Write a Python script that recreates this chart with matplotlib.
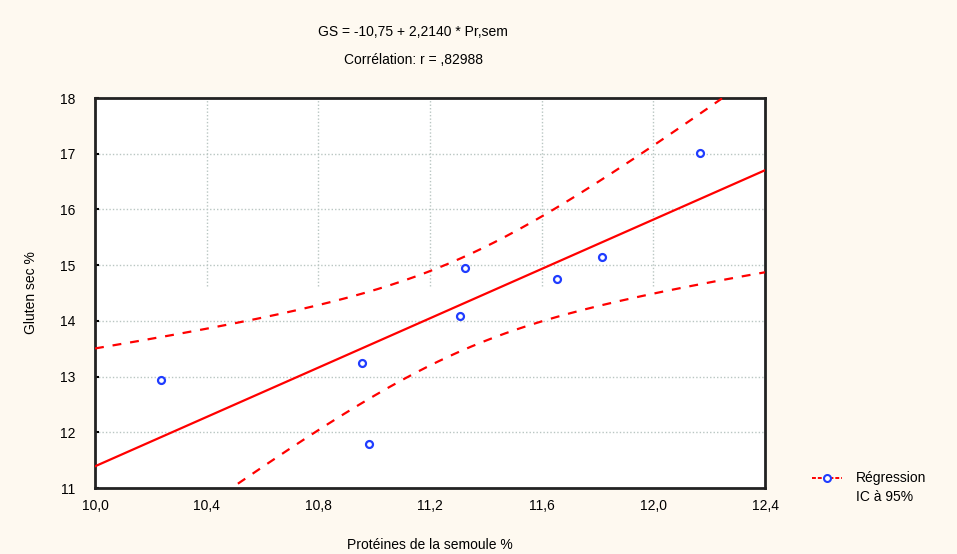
import numpy as np
import matplotlib
matplotlib.use("Agg")
import matplotlib.pyplot as plt
from matplotlib.lines import Line2D
from matplotlib.ticker import FuncFormatter

# proteines de la semoule (%) et gluten sec (%)
prot = [10.235, 10.955, 10.982, 11.307, 11.325, 11.654, 11.815, 12.167]
gluten = [12.94, 13.24, 11.79, 14.09, 14.94, 14.745, 15.14, 17.02]

intercept = -10.75
slope = 2.2140
r_text = ",82988"
t_975 = 2.4469  # Student t, 6 ddl

xticks = [10.0, 10.4, 10.8, 11.2, 11.6, 12.0, 12.4]
yticks = [11, 12, 13, 14, 15, 16, 17, 18]

bg = "#fef9f0"
plt.rcParams['font.family'] = ['Liberation Sans', 'DejaVu Sans']

fig = plt.figure(figsize=(9.57, 5.54), dpi=100, facecolor=bg)
ax = fig.add_axes([0.0993, 0.1191, 0.7001, 0.704])
ax.set_facecolor("white")

x = np.array(prot)
y = np.array(gluten)
n = len(x)
xbar = x.mean()
sxx = ((x - xbar) ** 2).sum()
resid = y - (intercept + slope * x)
s = np.sqrt((resid ** 2).sum() / (n - 2))

xs = np.linspace(10.0, 12.4, 300)
fit = intercept + slope * xs
half = t_975 * s * np.sqrt(1.0 / n + (xs - xbar) ** 2 / sxx)

# grille
grid_col = "#b9c6c2"
for yy in yticks[1:-1]:
    ax.axhline(yy, color=grid_col, lw=1.0, ls=(0, (1, 1.5)), zorder=1)
ax.vlines(xticks[1:-1], 14.62, 18, color=grid_col, lw=1.0, ls=(0, (1, 1.5)), zorder=1)

ax.plot(xs, fit, color="#ff0000", lw=1.6, zorder=3)
ax.plot(xs, fit + half, color="#ff0000", lw=1.6, ls=(0, (4, 4)), zorder=3)
ax.plot(xs, fit - half, color="#ff0000", lw=1.6, ls=(0, (4, 4)), zorder=3)
ax.plot(x, y, ls="none", marker="o", ms=5, mfc="white", mec="#1f3cff", mew=1.6, zorder=4)

ax.set_xlim(10.0, 12.4)
ax.set_ylim(11, 18)
ax.set_xticks(xticks)
ax.set_yticks(yticks)
ax.xaxis.set_major_formatter(FuncFormatter(lambda v, p: f"{v:.1f}".replace(".", ",")))
ax.tick_params(axis="y", direction="in", length=3, width=1.5, labelsize=10, pad=14)
ax.tick_params(axis="x", length=0, labelsize=10, pad=8)
for sp in ax.spines.values():
    sp.set_linewidth(2)
    sp.set_color("#222222")

ax.set_xlabel("Protéines de la semoule %", fontsize=10, labelpad=18)
ax.set_ylabel("Gluten sec %", fontsize=10, labelpad=16)

fig.text(0.4316, 0.942, f"GS = {intercept:.2f} + {slope:.4f} * Pr,sem".replace(".", ","),
         ha="center", va="center", fontsize=10)
fig.text(0.4316, 0.892, f"Corrélation: r = {r_text}", ha="center", va="center", fontsize=10)

handles = [Line2D([], [], color="#ff0000", lw=1.4, ls=(0, (2, 1)), marker="o", ms=5,
                  mfc="white", mec="#1f3cff", mew=1.5),
           Line2D([], [], color="none")]
fig.legend(handles, ["Régression", "IC à 95%"], loc="center left",
           bbox_to_anchor=(0.835, 0.12), frameon=False, fontsize=10,
           handlelength=2.2, labelspacing=0.3, handletextpad=1.0)

fig.savefig("out.png", dpi=100, facecolor=bg)
